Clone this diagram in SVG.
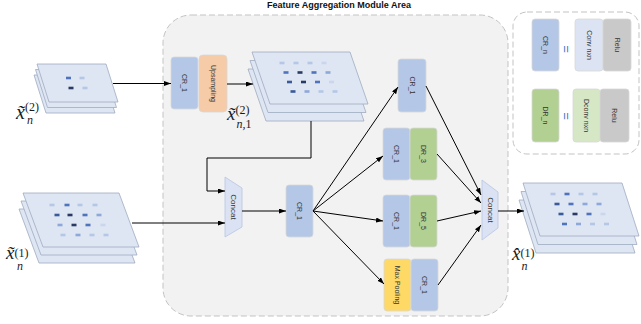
<svg xmlns="http://www.w3.org/2000/svg" width="641" height="324" viewBox="0 0 641 324">
<defs>
<marker id="ah" markerUnits="userSpaceOnUse" markerWidth="8" markerHeight="6" refX="7" refY="2.5" orient="auto">
<path d="M0,0 L7,2.5 L0,5 z" fill="#000"/>
</marker>
</defs>
<style>
.area{fill:#f2f2f2;stroke:#c3c3c3;stroke-width:1;stroke-dasharray:6,3}
.legend{fill:#fff;stroke:#c3c3c3;stroke-width:1;stroke-dasharray:6,3}
.lay{fill:#dee6f3;stroke:#9eabbf;stroke-width:0.8}
.box{stroke:#d8d8d8;stroke-width:0.8}
.cr{fill:#b4c7e7}.up{fill:#f5cba8}.dr{fill:#b2d092}.mp{fill:#ffd966}.cv{fill:#dce3f2}.dc{fill:#d6e7c6}.rl{fill:#c9c9c9}
.cc{fill:#dae2f3;stroke:#b8c6e2;stroke-width:0.8}
.lbl{font-family:"Liberation Sans",Arial,sans-serif;font-size:7px;fill:#333;text-anchor:middle;dominant-baseline:central}
.big{font-size:8px}
.eq{font-family:"Liberation Sans",Arial,sans-serif;font-size:13px;fill:#4472c4;text-anchor:middle;dominant-baseline:central}
.m{font-family:"Liberation Serif","Times New Roman",serif;fill:#1a1a1a}
.mi{font-style:italic}
.c{fill:none;stroke:#000;stroke-width:1;marker-end:url(#ah)}
.d0{fill:#2a3b63}.d1{fill:#3a5a98}.d2{fill:#4f74bb}.d3{fill:#8ea9d9}.d4{fill:#b4c7e7}.d5{fill:#c9d6ee}
</style>

<text x="339" y="7.5" font-family="'Liberation Sans',Arial,sans-serif" font-size="9" font-weight="bold" text-anchor="middle" fill="#111">Feature Aggregation Module Area</text>
<rect class="area" x="163" y="15" width="345" height="301" rx="28"/>
<rect class="legend" x="513" y="12" width="126" height="142" rx="14"/>

<g id="input2">
<polygon class="lay" points="34,75 103,75 115,113 46,113"/>
<polygon class="lay" points="35.5,69.5 104.5,69.5 116.5,107.5 47.5,107.5"/>
<polygon class="lay" points="37,64 106,64 118,102 49,102"/>
<rect class="d2" x="66" y="76.7" width="5" height="2.6"/>
<rect class="d4" x="79.5" y="76.7" width="5" height="2.6"/>
<rect class="d0" x="68.5" y="86.7" width="5" height="2.6"/>
<rect class="d4" x="82.5" y="86.7" width="5" height="2.6"/>
<text class="m" x="16" y="119" font-size="20"><tspan class="mi">x̃</tspan><tspan font-size="12" dy="-8">(2)</tspan><tspan class="mi" font-size="12" x="27" dy="13">n</tspan></text>
</g>

<g id="input1">
<polygon class="lay" points="19,209 115,209 135,263 39,263"/>
<polygon class="lay" points="21,201 117,201 137,255 41,255"/>
<polygon class="lay" points="23,193 119,193 139,247 43,247"/>
<rect class="d4" x="49.5" y="203.7" width="5" height="2.6"/>
<rect class="d2" x="64.5" y="203.7" width="5" height="2.6"/>
<rect class="d4" x="77.5" y="203.7" width="5" height="2.6"/>
<rect class="d4" x="92.5" y="203.7" width="5" height="2.6"/>
<rect class="d1" x="54.5" y="213.7" width="5" height="2.6"/>
<rect class="d0" x="67.5" y="213.7" width="5" height="2.6"/>
<rect class="d2" x="82.5" y="213.7" width="5" height="2.6"/>
<rect class="d3" x="96.5" y="213.7" width="5" height="2.6"/>
<rect class="d3" x="57.5" y="223.7" width="5" height="2.6"/>
<rect class="d0" x="71.5" y="223.7" width="5" height="2.6"/>
<rect class="d2" x="85.5" y="223.7" width="5" height="2.6"/>
<rect class="d5" x="100.5" y="223.7" width="5" height="2.6"/>
<rect class="d4" x="60.5" y="233.7" width="5" height="2.6"/>
<rect class="d3" x="75.5" y="233.7" width="5" height="2.6"/>
<rect class="d4" x="89.5" y="233.7" width="5" height="2.6"/>
<rect class="d4" x="103.5" y="233.7" width="5" height="2.6"/>
<text class="m" x="6" y="259" font-size="19"><tspan class="mi">x̃</tspan><tspan font-size="12" dy="-2">(1)</tspan><tspan class="mi" font-size="12" x="17" dy="13">n</tspan></text>
</g>

<g id="feat21">
<polygon class="lay" points="248,69 346,69 364,121 266,121"/>
<polygon class="lay" points="250,60.5 348,60.5 366,112.5 268,112.5"/>
<polygon class="lay" points="252,52 350,52 368,104 270,104"/>
<rect class="d4" x="279.5" y="61.7" width="5" height="2.6"/>
<rect class="d4" x="293.5" y="61.7" width="5" height="2.6"/>
<rect class="d4" x="307.5" y="61.7" width="5" height="2.6"/>
<rect class="d5" x="321.5" y="61.7" width="5" height="2.6"/>
<rect class="d2" x="283.5" y="71.2" width="5" height="2.6"/>
<rect class="d0" x="297.5" y="71.2" width="5" height="2.6"/>
<rect class="d2" x="311.5" y="71.2" width="5" height="2.6"/>
<rect class="d3" x="325.5" y="71.2" width="5" height="2.6"/>
<rect class="d1" x="287" y="80.7" width="5" height="2.6"/>
<rect class="d0" x="301" y="80.7" width="5" height="2.6"/>
<rect class="d2" x="315" y="80.7" width="5" height="2.6"/>
<rect class="d5" x="329" y="80.7" width="5" height="2.6"/>
<rect class="d1" x="290.5" y="90.2" width="5" height="2.6"/>
<rect class="d3" x="304.5" y="90.2" width="5" height="2.6"/>
<rect class="d4" x="318.5" y="90.2" width="5" height="2.6"/>
<rect class="d4" x="332.5" y="90.2" width="5" height="2.6"/>
<text class="m" x="227" y="120" font-size="19"><tspan class="mi">x̃</tspan><tspan font-size="12" dy="-6">(2)</tspan><tspan class="mi" font-size="12" x="236.5" dy="14">n,</tspan><tspan font-size="12">1</tspan></text>
</g>

<g id="output1">
<polygon class="lay" points="519,200 618,200 635,253 536,253"/>
<polygon class="lay" points="521,191.5 620,191.5 637,244.5 538,244.5"/>
<polygon class="lay" points="523,183 622,183 639,236 540,236"/>
<rect class="d4" x="550.5" y="192.7" width="5" height="2.6"/>
<rect class="d2" x="564.5" y="192.7" width="5" height="2.6"/>
<rect class="d4" x="578.5" y="192.7" width="5" height="2.6"/>
<rect class="d4" x="592.5" y="192.7" width="5" height="2.6"/>
<rect class="d1" x="554.5" y="202.7" width="5" height="2.6"/>
<rect class="d2" x="568.5" y="202.7" width="5" height="2.6"/>
<rect class="d3" x="582.5" y="202.7" width="5" height="2.6"/>
<rect class="d3" x="596.5" y="202.7" width="5" height="2.6"/>
<rect class="d1" x="558.5" y="212.7" width="5" height="2.6"/>
<rect class="d0" x="572.5" y="212.7" width="5" height="2.6"/>
<rect class="d2" x="586.5" y="212.7" width="5" height="2.6"/>
<rect class="d5" x="600.5" y="212.7" width="5" height="2.6"/>
<rect class="d2" x="562" y="222.7" width="5" height="2.6"/>
<rect class="d3" x="576" y="222.7" width="5" height="2.6"/>
<rect class="d4" x="590" y="222.7" width="5" height="2.6"/>
<rect class="d4" x="604" y="222.7" width="5" height="2.6"/>
<text class="m" x="512" y="260" font-size="19"><tspan class="mi">x̂</tspan><tspan font-size="12" dy="-3">(1)</tspan><tspan class="mi" font-size="12" x="521.5" dy="13">n</tspan></text>
</g>

<g id="cr1_up">
<rect class="box cr" x="171" y="57" width="27" height="52" rx="3"/>
<rect class="box up" x="199" y="55" width="28" height="57" rx="4"/>
<text class="lbl" transform="translate(184.5,83) rotate(90)">CR_1</text>
<text class="lbl" transform="translate(213,83.5) rotate(90)">Upsampling</text>
</g>

<g id="concat1">
<polygon class="cc" points="225,177 242,188 242,227 225,237"/>
<text class="lbl big" transform="translate(233.5,207) rotate(90)">Concat</text>
</g>

<g id="cr1_mid">
<rect class="box cr" x="286" y="185" width="27" height="52" rx="3"/>
<text class="lbl" transform="translate(299.5,211) rotate(90)">CR_1</text>
</g>

<g id="cr1_top">
<rect class="box cr" x="398" y="59" width="28" height="53" rx="3"/>
<text class="lbl" transform="translate(412,85.5) rotate(90)">CR_1</text>
</g>

<g id="cr_dr3">
<rect class="box cr" x="383" y="128" width="27" height="52" rx="3"/>
<rect class="box dr" x="410" y="128" width="27" height="52" rx="3"/>
<text class="lbl" transform="translate(396.5,154) rotate(90)">CR_1</text>
<text class="lbl" transform="translate(423.5,154) rotate(90)">DR_3</text>
</g>

<g id="cr_dr5">
<rect class="box cr" x="383" y="195" width="27" height="52" rx="3"/>
<rect class="box dr" x="410" y="195" width="27" height="52" rx="3"/>
<text class="lbl" transform="translate(396.5,221) rotate(90)">CR_1</text>
<text class="lbl" transform="translate(423.5,221) rotate(90)">DR_5</text>
</g>

<g id="mp_cr">
<rect class="box mp" x="384" y="259" width="27" height="52" rx="3"/>
<rect class="box cr" x="411" y="259" width="27" height="52" rx="3"/>
<text class="lbl" transform="translate(397.5,285) rotate(90)">Max Pooling</text>
<text class="lbl" transform="translate(424.5,285) rotate(90)">CR_1</text>
</g>

<g id="concat2">
<polygon class="cc" points="482,180 498,192 498,228 482,240"/>
<text class="lbl big" transform="translate(490,210) rotate(90)">Concat</text>
</g>

<g id="legend_cr">
<rect class="box cr" x="532" y="19" width="27" height="52" rx="3"/>
<text class="lbl" transform="translate(545.5,45) rotate(90)">CR_n</text>
<text class="eq" transform="translate(566.5,49) rotate(90)">=</text>
<rect class="box cv" x="575" y="19" width="28" height="52" rx="3"/>
<rect class="box rl" x="603" y="19" width="28" height="52" rx="3"/>
<text class="lbl" transform="translate(589,45) rotate(90)">Conv nxn</text>
<text class="lbl" transform="translate(617,45) rotate(90)">Relu</text>
</g>

<g id="legend_dr">
<rect class="box dr" x="532" y="89" width="27" height="53" rx="3"/>
<text class="lbl" transform="translate(545.5,115.5) rotate(90)">DR_n</text>
<text class="eq" transform="translate(566.5,116) rotate(90)">=</text>
<rect class="box dc" x="573" y="89" width="27" height="53" rx="3"/>
<rect class="box rl" x="600" y="89" width="29" height="53" rx="3"/>
<text class="lbl" transform="translate(586.5,115.5) rotate(90)">Dconv nxn</text>
<text class="lbl" transform="translate(614.5,115.5) rotate(90)">Relu</text>
</g>

<g id="connectors">
<path class="c" d="M113,83.5 H171"/>
<path class="c" d="M227,84 H253"/>
<path class="c" d="M311,121 V158 H207 V191 H225"/>
<path class="c" d="M132,223 H225"/>
<path class="c" d="M242,211 H286"/>
<path class="c" d="M313,211 L398,87"/>
<path class="c" d="M313,211 L383,156"/>
<path class="c" d="M313,211 L383,221"/>
<path class="c" d="M313,211 L384,284"/>
<path class="c" d="M426,86 L481,195"/>
<path class="c" d="M437,154 L481,203"/>
<path class="c" d="M437,221 L481,211"/>
<path class="c" d="M438,285 L481,225"/>
<path class="c" d="M498,211 H524"/>
</g>
</svg>
